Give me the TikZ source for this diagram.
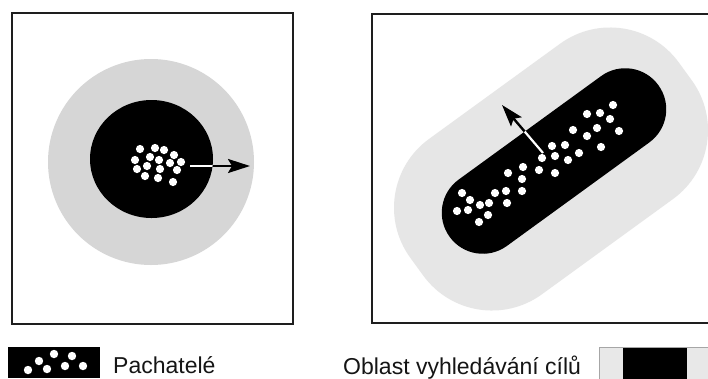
\documentclass[tikz,border=0pt]{standalone}
\usepackage{fontspec}
\setmainfont{Liberation Sans}
\usetikzlibrary{arrows.meta,calc}
\definecolor{ringL}{HTML}{D6D6D6}
\definecolor{ringR}{HTML}{E6E6E6}
\definecolor{swlight}{HTML}{E8E8E8}
\definecolor{frame}{HTML}{1E1E1E}
\definecolor{ink}{HTML}{151515}
\tikzset{
  frameline/.style={draw=frame, line width=2.6pt},
  dot/.style={fill=white},
  label/.style={anchor=base west, inner sep=0pt, text=ink, font=\fontsize{23pt}{27pt}\selectfont},
  arrowblack/.style={draw=black, line width=2.4pt, -{Stealth[length=22pt,width=14pt,inset=4pt]}},
  shaftwhite/.style={draw=white, line width=2.2pt},
  pill/.style={shift={(554,161)}, rotate=36, rounded corners=40.9pt}
}
\newcommand{\dotat}[1]{\fill[dot] #1 circle[radius=4.1pt];}
\begin{document}
\begin{tikzpicture}[x=1pt,y=-1pt]
\useasboundingbox (0,0) rectangle (708,378);
\fill[white] (0,0) rectangle (708,378);

% ---------- left panel ----------
\draw[frameline] (12,13) rectangle (293,324);
\fill[ringL] (151,162) circle[radius=103pt];
\fill[black] (151.5,159) ellipse[x radius=61.5pt, y radius=59pt];
\coordinate (la) at (190,166);
\coordinate (lb) at (250,166);
\draw[arrowblack] (la) -- (lb);
\begin{scope}
  \clip (151.5,159) ellipse[x radius=61.5pt, y radius=59pt];
  \draw[shaftwhite] (la) -- (lb);
\end{scope}
\foreach \p in {(140,149),(155,148),(164,150),(174,155),(135,160),(150,157),(159,160),(170,163),(181,162),(137,169),(147,166),(160,169),(177,170),(145,176),(158,178),(173,182)}{\dotat{\p}}

% ---------- right panel ----------
\draw[frameline] (712,14) -- (372,14) -- (372,323) -- (712,323);
\fill[ringR, shift={(551,169)}, rotate=36, rounded corners=85pt] (-166,-96) rectangle (166,96);
\fill[black, pill] (-129,-41) rectangle (129,41);
\coordinate (ra) at (543,153);
\coordinate (rb) at (502,105);
\draw[arrowblack] (ra) -- (rb);
\begin{scope}
  \clip[pill] (-129,-41) rectangle (129,41);
  \draw[shaftwhite] (ra) -- ($(rb)!0.3!(ra)$);
\end{scope}
\foreach \p in {(613,105),(587,114),(600,113),(610,119),(619,131),(573,130),(597,128),(587,136),(601,147),(552,146),(565,145),(579,153),(542,158),(555,156),(568,160),(539,170),(555,173),(523,167),(508,173),(522,179),(495,193),(506,191),(522,191),(507,203),(462,193),(470,200),(480,205),(489,203),(457,211),(468,210),(488,215),(479,222)}{\dotat{\p}}

% ---------- legend ----------
\fill[black] (8,347) rectangle (100,378);
\foreach \p in {(54,354),(72,356),(39,361),(65,366),(83,366),(28,370),(47,369)}{\fill[white] \p circle[radius=4.2pt];}
\node[label] (pach) at (113,373) {Pachatelé};
\node[label] (obl) at (343,374) {Oblast vyhledávání cílů};
\fill[swlight] (599,347) rectangle (712,380);
\fill[black] (623,347) rectangle (687,380);
\draw[draw=gray!70, line width=1pt] (712,347) -- (599,347) -- (599,380);
\end{tikzpicture}
\end{document}
